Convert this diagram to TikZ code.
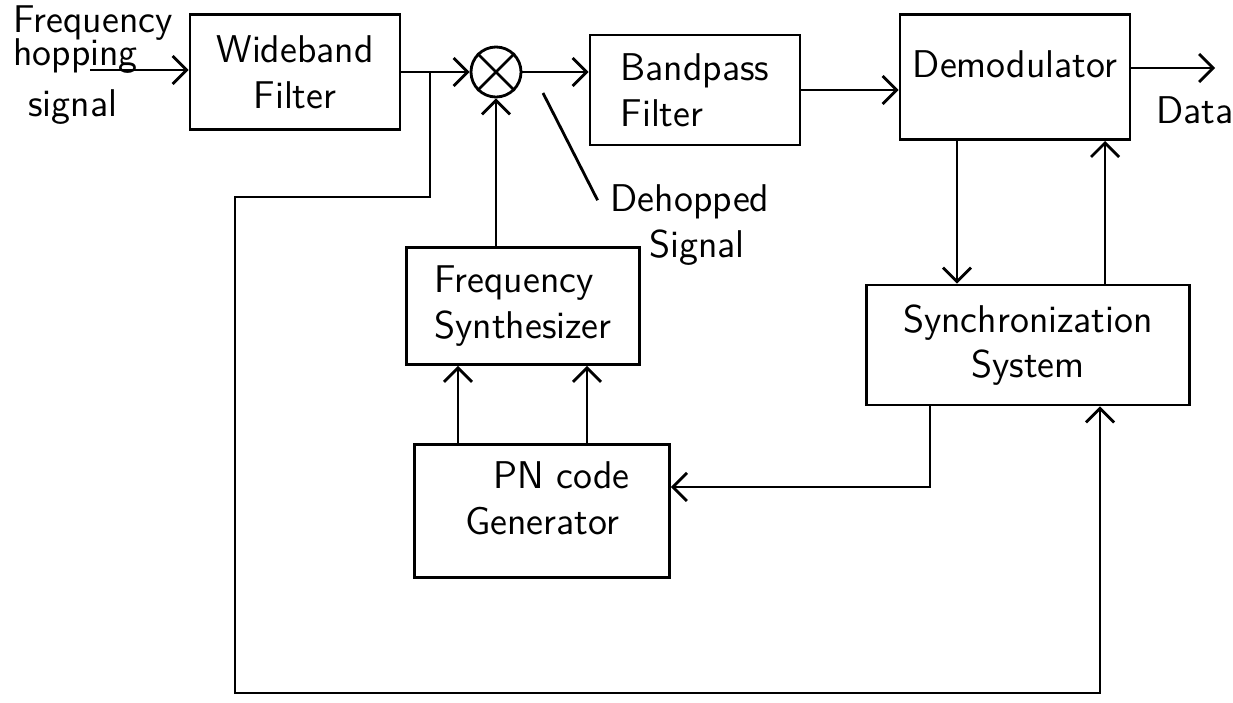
\documentclass[tikz,border=0pt]{standalone}
\usepackage{xcolor}
\usepackage{tikz}
\usetikzlibrary{arrows.meta}

\begin{document}
\begin{tikzpicture}[x=0.01cm,y=-0.01cm,line width=0.8pt,
    font=\sffamily\fontsize{11}{13}\selectfont,
    blk/.style={draw,rectangle,align=center,inner sep=2pt},
    arr/.style={-{Straight Barb[length=1.4mm,width=2.8mm]}}]
  \useasboundingbox (0,0) rectangle (1233,703);
  % blocks
  \node[blk,minimum width=2.1cm,minimum height=1.15cm] (wbf) at (295,72) {Wideband\\Filter};
  \node[draw,circle,minimum size=0.5cm,inner sep=0pt] (mix) at (496,72) {};
  \draw (mix.45) -- (mix.225) (mix.135) -- (mix.315);
  \node[blk,align=left,minimum width=2.1cm,minimum height=1.1cm] (bpf) at (695,90) {Bandpass\\Filter};
  \node[blk,minimum width=2.3cm,minimum height=1.25cm,text depth=0.25cm] (dem) at (1015,77) {Demodulator};
  \node[blk,align=left,minimum width=2.33cm,minimum height=1.17cm] (syn) at (523,306) {Frequency\\Synthesizer};
  \node[blk,minimum width=2.55cm,minimum height=1.33cm] (pn) at (542,511) {\quad PN code\\Generator\\[-0.2cm]};
  \node[blk,minimum width=3.23cm,minimum height=1.2cm] (sync) at (1028,345) {Synchronization\\System};
  % labels
  \node[align=left,anchor=north west,inner sep=0pt] (fhs) at (12,4) {Frequency\\[-0.12cm]hopping\\[0.05cm]\hspace{0.15cm}signal};
  \node[align=left] (dhs) at (690,225) {Dehopped\\\quad Signal};
  \node (data) at (1195,110) {Data};
  \coordinate (fin) at (90,70);
  \coordinate (dout) at (1215,68);
  \coordinate (tap) at (430,72);
  \coordinate (dhp) at (543,93);
  \coordinate (fb1) at (235,197);
  \coordinate (fb2) at (235,693);
  % signal path
  \draw[arr] (fin) -- (fin -| wbf.west);
  \draw[arr] (wbf.east) -- (mix.west);
  \draw[arr] (mix.east) -- (mix.east -| bpf.west);
  \draw[arr] (bpf.east) -- (bpf.east -| dem.west);
  \draw[arr] (dem.east |- dout) -- (dout);
  \draw (dhp) -- (dhs.165);
  \draw[arr] (mix |- syn.north) -- (mix.south);
  \foreach \dx in {-0.84,0.45}
    \draw[arr] ([xshift=\dx cm]pn.north) -- ([xshift=\dx cm]pn.north |- syn.south);
  % synchronization loop
  \draw[arr] ([xshift=-0.58cm]dem.south) -- ([xshift=-0.58cm]dem.south |- sync.north);
  \draw[arr] ([xshift=0.77cm]sync.north) -- ([xshift=0.77cm]sync.north |- dem.south);
  \draw[arr] ([xshift=-0.98cm]sync.south) |- ([yshift=0.24cm]pn.east);
  \draw[arr] (tap) |- (fb1) -- (fb2) -| ([xshift=0.72cm]sync.south);
\end{tikzpicture}
\end{document}
